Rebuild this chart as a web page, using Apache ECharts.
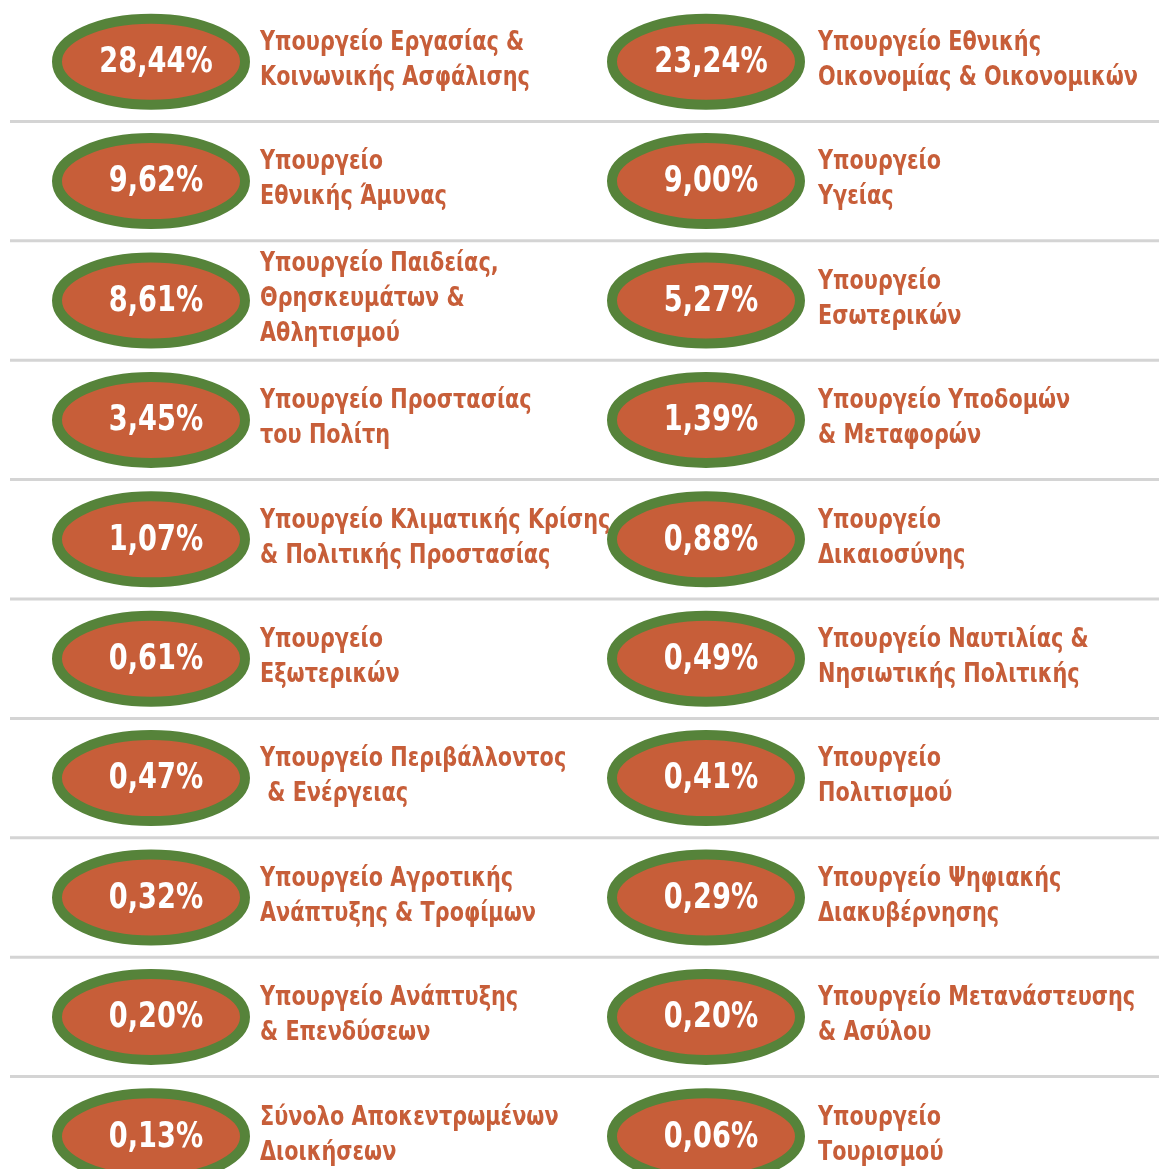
<!DOCTYPE html>
<html><head><meta charset="utf-8">
<script src="https://cdn.jsdelivr.net/npm/echarts@6/dist/echarts.min.js"></script>
<style>html,body{margin:0;padding:0;background:#fff}#c{width:1159px;height:1169px}</style>
</head><body><div id="c"></div>
<script>
const labels = [
  "Υπουργείο Εργασίας &\nΚοινωνικής Ασφάλισης",
  "Υπουργείο Εθνικής\nΟικονομίας & Οικονομικών",
  "Υπουργείο\nΕθνικής Άμυνας",
  "Υπουργείο\nΥγείας",
  "Υπουργείο Παιδείας,\nΘρησκευμάτων &\nΑθλητισμού",
  "Υπουργείο\nΕσωτερικών",
  "Υπουργείο Προστασίας\nτου Πολίτη",
  "Υπουργείο Υποδομών\n& Μεταφορών",
  "Υπουργείο Κλιματικής Κρίσης\n& Πολιτικής Προστασίας",
  "Υπουργείο\nΔικαιοσύνης",
  "Υπουργείο\nΕξωτερικών",
  "Υπουργείο Ναυτιλίας &\nΝησιωτικής Πολιτικής",
  "Υπουργείο Περιβάλλοντος\n & Ενέργειας",
  "Υπουργείο\nΠολιτισμού",
  "Υπουργείο Αγροτικής\nΑνάπτυξης & Τροφίμων",
  "Υπουργείο Ψηφιακής\nΔιακυβέρνησης",
  "Υπουργείο Ανάπτυξης\n& Επενδύσεων",
  "Υπουργείο Μετανάστευσης\n& Ασύλου",
  "Σύνολο Αποκεντρωμένων\nΔιοικήσεων",
  "Υπουργείο\nΤουρισμού"
];
const values = [28.44, 23.24, 9.62, 9.00, 8.61, 5.27, 3.45, 1.39, 1.07, 0.88,
                0.61, 0.49, 0.47, 0.41, 0.32, 0.29, 0.20, 0.20, 0.13, 0.06];
const rows = ["1","2","3","4","5","6","7","8","9","10"];

const ORANGE = '#C75E39', GREEN = '#56833A', LINE = '#d4d4d4';
const FONT = '"DejaVu Sans Condensed","DejaVu Sans",sans-serif';

const data = values.map((v, i) => [i % 2, Math.floor(i / 2), v, i]);

const chart = echarts.init(document.getElementById('c'), null, {renderer: 'canvas'});
chart.setOption({
  animation: false,
  grid: {left: 10, right: 0, top: 2, height: 1194, outerBoundsMode: 'none', containLabel: false},
  xAxis: {type: 'value', min: -0.25405, max: 1.81622, show: false},
  yAxis: {type: 'category', data: rows, inverse: true, show: false},
  series: [{
    type: 'custom',
    data: data,
    clip: false,
    encode: {x: 0, y: 1},
    renderItem: function (params, api) {
      const p = api.coord([api.value(0), api.value(1)]);
      const bandH = api.size([0, 1])[1];
      const idx = api.value(3);
      const row = api.value(1);
      const col = api.value(0);
      const v = api.value(2).toFixed(2).replace('.', ',') + '%';
      const children = [];
      if (col === 0 && row < rows.length - 1) {
        children.push({type: 'rect', shape: {x: 10, y: p[1] + bandH / 2 - 1.5, width: 1149, height: 3},
          style: {fill: LINE}});
      }
      children.push({type: 'ellipse', shape: {cx: p[0], cy: p[1], rx: 94, ry: 43},
        style: {fill: ORANGE, stroke: GREEN, lineWidth: 10}});
      children.push({type: 'text', x: p[0] + 5, y: p[1] + 1, scaleX: 0.84,
        style: {text: v, x: 0, y: 0, align: 'center', verticalAlign: 'middle',
        fill: '#fff', font: 'bold 36px ' + FONT}});
      children.push({type: 'text', x: p[0] + (col === 0 ? 109 : 112), y: p[1] - 1, scaleX: 0.89,
        style: {text: labels[idx], x: 0, y: 0,
        align: 'left', verticalAlign: 'middle', fill: ORANGE, font: 'bold 26px ' + FONT, lineHeight: 35}});
      return {type: 'group', children: children};
    }
  }]
});
</script></body></html>
